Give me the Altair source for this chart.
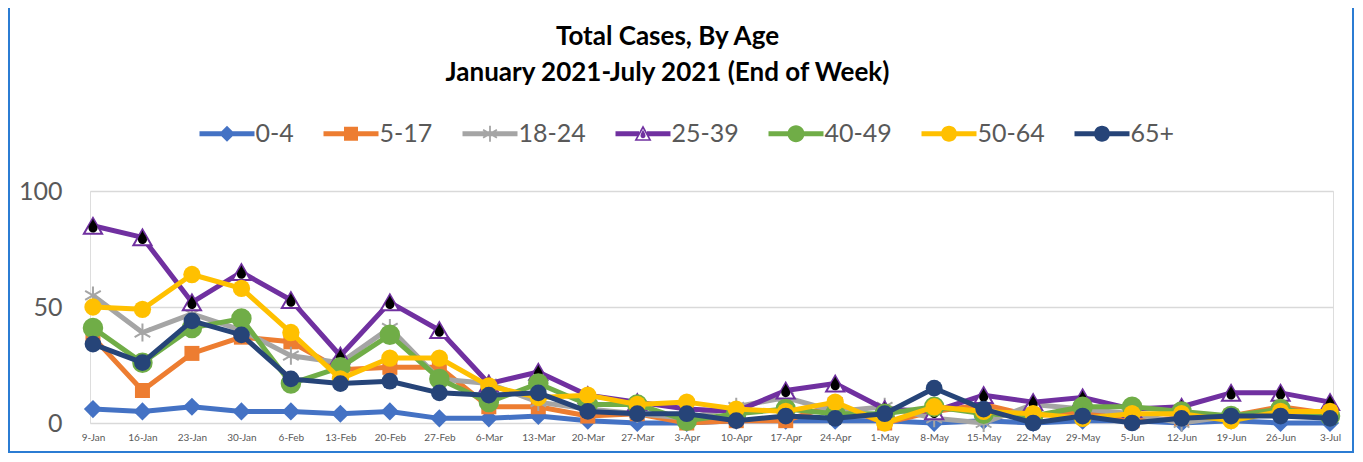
import math
import altair as alt
import pandas as pd

dates = ["9-Jan", "16-Jan", "23-Jan", "30-Jan", "6-Feb", "13-Feb", "20-Feb", "27-Feb",
         "6-Mar", "13-Mar", "20-Mar", "27-Mar", "3-Apr", "10-Apr", "17-Apr", "24-Apr",
         "1-May", "8-May", "15-May", "22-May", "29-May", "5-Jun", "12-Jun", "19-Jun",
         "26-Jun", "3-Jul"]

age_0_4 = [6, 5, 7, 5, 5, 4, 5, 2, 2, 3, 1, 0, 0, 1, 1, 1, 1, 0, 1, 0, 1, 1, 0, 1, 0, 0]
age_5_17 = [37, 14, 30, 37, 35, 23, 24, 24, 7, 7, 3, 4, 0, 1, 1, 8, 0, 5, 8, 3, 5, 1, 2, 3, 7, 4]
age_18_24 = [55, 39, 47, 40, 29, 26, 41, 19, 17, 9, 6, 4, 2, 7, 11, 5, 7, 2, 0, 8, 6, 4, 0, 3, 4, 3]
age_25_39 = [85, 80, 52, 65, 53, 29, 52, 40, 17, 22, 12, 9, 6, 5, 14, 17, 6, 5, 12, 9, 11, 6, 7, 13, 13, 9]
age_40_49 = [41, 26, 41, 45, 17, 24, 38, 19, 9, 17, 8, 8, 1, 4, 6, 4, 4, 7, 4, 3, 7, 7, 5, 3, 6, 3]
age_50_64 = [50, 49, 64, 58, 39, 19, 28, 28, 16, 11, 12, 8, 9, 6, 5, 9, 0, 7, 5, 4, 2, 4, 4, 1, 5, 5]
age_65 = [34, 26, 44, 38, 19, 17, 18, 13, 12, 13, 5, 4, 4, 1, 3, 2, 4, 15, 6, 0, 3, 0, 2, 3, 3, 2]

groups = ["0-4", "5-17", "18-24", "25-39", "40-49", "50-64", "65+"]
values = [age_0_4, age_5_17, age_18_24, age_25_39, age_40_49, age_50_64, age_65]
colors = ["#4472C4", "#ED7D31", "#A5A5A5", "#7030A0", "#70AD47", "#FFC000", "#264478"]

rows = []
for g, vals in zip(groups, values):
    for d, v in zip(dates, vals):
        rows.append({"week": d, "age": g, "cases": v})
df = pd.DataFrame(rows)

FONT = "Lato"
GRAY = "#595959"


# ---------- marker shapes ----------
def rect(x0, x1, w):
    return f"M{x0},{-w}L{x1},{-w}L{x1},{w}L{x0},{w}Z"


def rot_bar(L, w, ang):
    c, s = math.cos(ang), math.sin(ang)
    pts = [(-L, -w), (L, -w), (L, w), (-L, w)]
    p = [(x * c - y * s, x * s + y * c) for x, y in pts]
    return "M" + "L".join(f"{x:.3f},{y:.3f}" for x, y in p) + "Z"


def circle(r):
    return f"M{r},0A{r},{r} 0 1 1 {-r},0A{r},{r} 0 1 1 {r},0Z"


LINE = rect(-2.75, 2.75, 0.25)
asterisk_legend = "".join(rot_bar(0.8, 0.09, a) for a in (math.pi / 2, math.pi / 6, -math.pi / 6))
tri_legend = (rect(-2.75, -0.4, 0.25) + rect(0.4, 2.75, 0.25)
              + "M0,-0.85L0.85,0.7L-0.85,0.7Z"
              + "M0,-0.5L-0.58,0.55L0.58,0.55Z"
              + "M0,-0.4C0.1,-0.2 0.25,0 0.25,0.2A0.25,0.25 0 0 1 -0.25,0.2C-0.25,0 -0.1,-0.2 0,-0.4Z")
legend_shapes = [
    LINE + "M0,-0.8L0.8,0L0,0.8L-0.8,0Z",
    LINE + "M-0.7,-0.7L0.7,-0.7L0.7,0.7L-0.7,0.7Z",
    LINE + asterisk_legend,
    tri_legend,
    LINE + circle(0.85),
    LINE + circle(0.8),
    LINE + circle(0.8),
]

ASTERISK = "M0,-1L0,1M-0.87,-0.5L0.87,0.5M-0.87,0.5L0.87,-0.5"
DROP = "M0,-1C0.25,-0.45 0.65,-0.05 0.65,0.3A0.65,0.65 0 0 1 -0.65,0.3C-0.65,-0.05 -0.25,-0.45 0,-1Z"

x_enc = alt.X("week:O", sort=dates,
              scale=alt.Scale(type="point", padding=0.06),
              axis=alt.Axis(title=None, labelAngle=0, ticks=False, domain=False, grid=False,
                            labelFontSize=10, labelColor=GRAY, labelFont=FONT, labelPadding=9))
y_enc = alt.Y("cases:Q",
              scale=alt.Scale(domain=[0, 100]),
              axis=alt.Axis(title=None, values=[0, 50, 100], ticks=False, domain=False,
                            grid=True, gridColor="#D9D9D9", gridWidth=1.5,
                            labelFontSize=25, labelColor=GRAY, labelFont=FONT, labelPadding=28))

base = alt.Chart(df)
layers = []

# decorative frame (left, right, bottom)
frame_color = "#2B7CD3"
layers.append(base.mark_rule(color=frame_color, strokeWidth=2).encode(
    x=alt.value(-81), y=alt.value(-183), y2=alt.value(262)))
layers.append(base.mark_rule(color=frame_color, strokeWidth=2).encode(
    x=alt.value(1263), y=alt.value(-183), y2=alt.value(262)))
layers.append(base.mark_rule(color=frame_color, strokeWidth=2).encode(
    x=alt.value(-81), x2=alt.value(1263), y=alt.value(261)))

marker_specs = {
    "0-4": dict(shape="diamond", size=330, filled=True),
    "5-17": dict(shape="square", size=225, filled=True),
    "18-24": dict(shape=ASTERISK, size=324, filled=False, strokeWidth=2),
    "25-39": dict(shape="triangle-up", size=330, filled=True, fill="white", strokeWidth=2),
    "40-49": dict(shape="circle", size=420, filled=True),
    "50-64": dict(shape="circle", size=300, filled=True),
    "65+": dict(shape="circle", size=280, filled=True),
}

for g, c in zip(groups, colors):
    sub = base.transform_filter(alt.datum.age == g)
    layers.append(sub.mark_line(color=c, strokeWidth=5, strokeJoin="round").encode(x=x_enc, y=y_enc))
    spec = dict(marker_specs[g])
    if spec.get("filled") and "fill" not in spec:
        spec["color"] = c
    else:
        spec["stroke"] = c
    layers.append(sub.mark_point(opacity=1, **spec).encode(x=x_enc, y=y_enc))
    if g == "25-39":
        layers.append(sub.mark_point(shape=DROP, size=196, filled=True, color="black", opacity=1)
                      .encode(x=x_enc, y=y_enc))

legend_props = dict(
    title=None, orient="none", legendX=107, legendY=-70, direction="horizontal",
    labelFont=FONT, labelFontSize=25, labelColor=GRAY,
    symbolSize=400, symbolStrokeWidth=0, symbolOffset=17.5, labelOffset=16,
    columnPadding=27, padding=0, symbolOpacity=1,
)

# legend layer (no visible marks, only drives the legend)
legend_layer = base.transform_filter("datum.cases < -1000").mark_point(filled=True, opacity=1).encode(
    x=x_enc, y=y_enc,
    color=alt.Color("age:N", scale=alt.Scale(domain=groups, range=colors),
                    legend=alt.Legend(**legend_props)),
    shape=alt.Shape("age:N", scale=alt.Scale(domain=groups, range=legend_shapes),
                    legend=alt.Legend(**legend_props)),
)
layers.append(legend_layer)

chart = alt.layer(*layers).properties(
    width=1243, height=232,
    autosize=alt.AutoSizeParams(type="none"),
    padding={"left": 82, "top": 183, "right": 22, "bottom": 31},
    title=alt.TitleParams(
        text=["Total Cases, By Age", "January 2021-July 2021 (End of Week)"],
        font=FONT, fontSize=26, fontWeight="bold", color="black",
        anchor="middle", dx=-44, lineHeight=36, offset=-100, baseline="alphabetic",
    ),
).configure_view(stroke=None).configure(background="white")

chart.save("out.html", embed_options={"renderer": "svg", "actions": False})
